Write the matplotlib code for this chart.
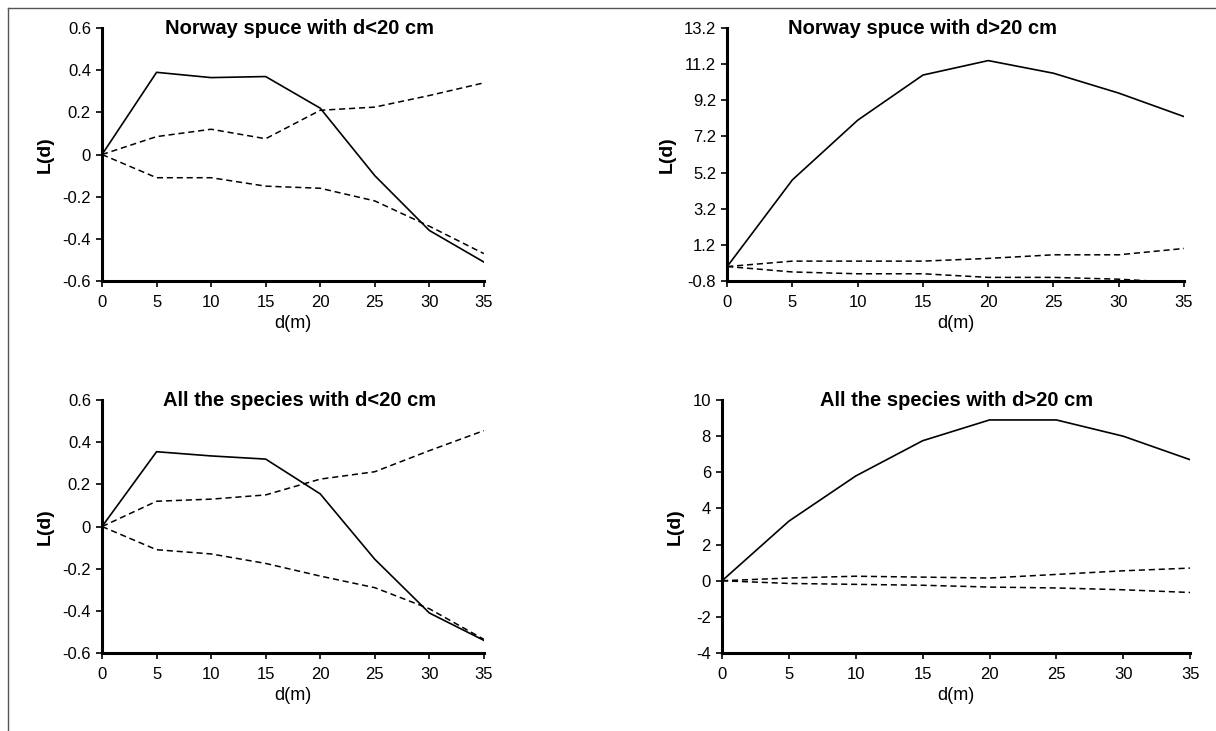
import matplotlib.pyplot as plt
from matplotlib.lines import Line2D

plt.rcParams['font.family'] = ['Liberation Sans', 'DejaVu Sans']

# distance (m)
d = [0, 5, 10, 15, 20, 25, 30, 35]

# Norway spruce, d<20 cm
ns_small_L = [0, 0.39, 0.365, 0.37, 0.22, -0.10, -0.36, -0.51]
ns_small_hi = [0, 0.085, 0.12, 0.075, 0.21, 0.225, 0.28, 0.34]
ns_small_lo = [0, -0.11, -0.11, -0.15, -0.16, -0.22, -0.34, -0.47]

# Norway spruce, d>20 cm
ns_big_L = [0, 4.8, 8.1, 10.6, 11.4, 10.7, 9.6, 8.3]
ns_big_hi = [0, 0.3, 0.3, 0.3, 0.45, 0.65, 0.65, 1.0]
ns_big_lo = [0, -0.3, -0.4, -0.4, -0.6, -0.6, -0.7, -0.9]

# All species, d<20 cm
all_small_L = [0, 0.355, 0.335, 0.32, 0.155, -0.155, -0.41, -0.54]
all_small_hi = [0, 0.12, 0.13, 0.15, 0.225, 0.26, 0.36, 0.455]
all_small_lo = [0, -0.11, -0.13, -0.175, -0.235, -0.29, -0.39, -0.535]

# All species, d>20 cm
all_big_L = [0, 3.3, 5.8, 7.75, 8.9, 8.9, 8.0, 6.7]
all_big_hi = [0, 0.15, 0.25, 0.2, 0.15, 0.35, 0.55, 0.7]
all_big_lo = [0, -0.15, -0.2, -0.25, -0.35, -0.4, -0.5, -0.65]

titles = ["Norway spuce with d<20 cm", "Norway spuce with d>20 cm",
          "All the species with d<20 cm", "All the species with d>20 cm"]
yticks_small = [-0.6, -0.4, -0.2, 0, 0.2, 0.4, 0.6]
yticks_ns_big = [-0.8, 1.2, 3.2, 5.2, 7.2, 9.2, 11.2, 13.2]
yticks_all_big = [-4, -2, 0, 2, 4, 6, 8, 10]

# rect, title x (axes fraction), data, y ticks
panels = [
    ([0.0839, 0.6156, 0.314, 0.346], 0.518, titles[0],
     ns_small_L, ns_small_hi, ns_small_lo, yticks_small),
    ([0.598, 0.6156, 0.3757, 0.346], 0.427, titles[1],
     ns_big_L, ns_big_hi, ns_big_lo, yticks_ns_big),
    ([0.0839, 0.1067, 0.314, 0.346], 0.518, titles[2],
     all_small_L, all_small_hi, all_small_lo, yticks_small),
    ([0.5938, 0.1067, 0.3849, 0.346], 0.5, titles[3],
     all_big_L, all_big_hi, all_big_lo, yticks_all_big),
]

fig = plt.figure(figsize=(12.16, 7.31), dpi=100)

# thin frame around the figure (only left/top visible in the reference)
fig.add_artist(Line2D([0.0066, 0.0066], [0.989, -0.01], transform=fig.transFigure,
                      color='#555555', lw=1.0))
fig.add_artist(Line2D([0.0066, 1.01], [0.989, 0.989], transform=fig.transFigure,
                      color='#555555', lw=1.0))

for rect, tx, title, L, hi, lo, yt in panels:
    ax = fig.add_axes(rect)
    ax.plot(d, L, color='black', lw=1.2)
    ax.plot(d, hi, color='black', lw=1.1, dashes=(4, 2.5))
    ax.plot(d, lo, color='black', lw=1.1, dashes=(4, 2.5))
    ax.set_xlim(0, 35)
    ax.set_ylim(yt[0], yt[-1])
    ax.set_xticks(d)
    ax.set_yticks(yt)
    ax.set_yticklabels([f"{v:g}" for v in yt])
    for s in ['top', 'right']:
        ax.spines[s].set_visible(False)
    for s in ['left', 'bottom']:
        ax.spines[s].set_linewidth(2.2)
    ax.tick_params(direction='out', length=4, width=1.2, labelsize=12, colors='black')
    ax.tick_params(axis='x', pad=6)
    ax.tick_params(axis='y', pad=4)
    ax.set_xlabel("d(m)", fontsize=13, labelpad=4)
    ax.set_ylabel("L(d)", fontsize=14, fontweight='bold', labelpad=6)
    ax.text(tx, 1.0, title, transform=ax.transAxes, ha='center', va='center',
            fontsize=14.5, fontweight='bold')

fig.savefig("out.png", dpi=100)
